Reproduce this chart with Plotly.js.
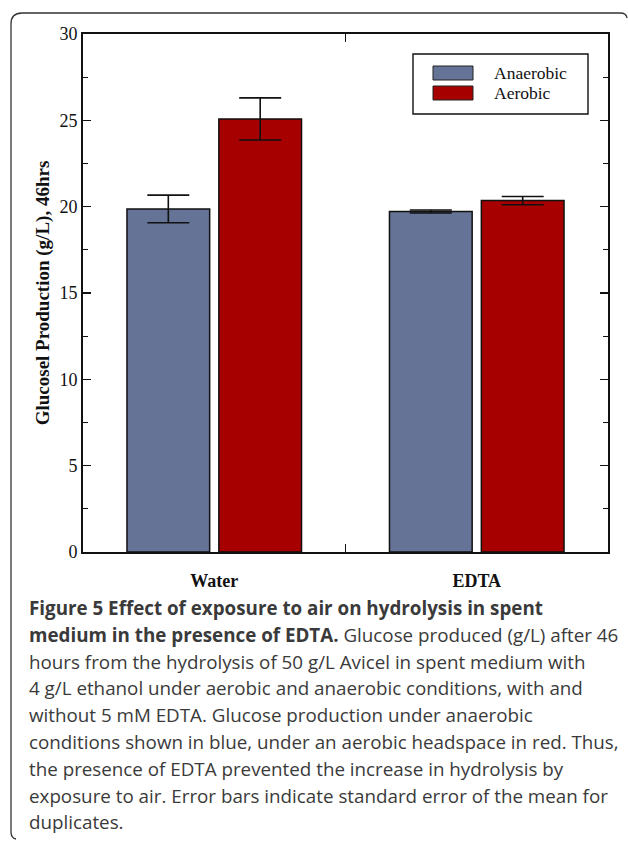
<!DOCTYPE html>
<html>
<head>
<meta charset="utf-8">
<script src="https://cdn.plot.ly/plotly-3.0.1.min.js"></script>
<style>html,body{margin:0;padding:0;background:#fff;}#chart{width:628px;height:842px;}</style>
</head>
<body>
<div id="chart"></div>
<script>
// ---- data ----
const categories = ['Water', 'EDTA'];
const seriesNames = ['Anaerobic', 'Aerobic'];
const anaerobic = [19.87, 19.72];
const anaerobicErr = [0.80, 0.09];
const aerobic = [25.08, 20.35];
const aerobicErr = [1.22, 0.24];
const yTickValues = [0, 5, 10, 15, 20, 25, 30];
const yTitle = 'Glucosel Production (g/L), 46hrs';
const captionLines = [
  '<b>Figure 5 Effect of exposure to air on hydrolysis in spent</b>',
  '<b>medium in the presence of EDTA.</b> Glucose produced (g/L) after 46',
  'hours from the hydrolysis of 50 g/L Avicel in spent medium with',
  '4 g/L ethanol under aerobic and anaerobic conditions, with and',
  'without 5 mM EDTA. Glucose production under anaerobic',
  'conditions shown in blue, under an aerobic headspace in red. Thus,',
  'the presence of EDTA prevented the increase in hydrolysis by',
  'exposure to air. Error bars indicate standard error of the mean for',
  'duplicates.'
];

// ---- style ----
const colors = ['#657396', '#a60000'];
const L = 83, T = 34, W = 525, H = 518, FW = 628, FH = 842;
const px = x => (x - L) / W;
const py = y => (T + H - y) / H;
const serif = '"Liberation Serif", "Times New Roman", serif';

function barTrace(name, vals, errs, color) {
  return {
    type: 'bar', name: name, x: categories, y: vals,
    marker: {color: color, line: {color: '#111', width: 1.5}},
    error_y: {type: 'data', array: errs, visible: true, color: '#111', thickness: 1.6, width: 21},
    showlegend: false, hoverinfo: 'skip'
  };
}
const traces = [
  barTrace(seriesNames[0], anaerobic, anaerobicErr, colors[0]),
  barTrace(seriesNames[1], aerobic, aerobicErr, colors[1])
];

// legend (drawn as box + swatches + text)
const shapes = [];
const annotations = [];
shapes.push({type: 'rect', xref: 'paper', yref: 'paper', x0: px(413), x1: px(588), y0: py(54), y1: py(114),
  line: {color: '#111', width: 1.4}, fillcolor: 'rgba(0,0,0,0)'});
seriesNames.forEach((n, i) => {
  const yc = 73 + i * 20;
  shapes.push({type: 'rect', xref: 'paper', yref: 'paper', x0: px(433), x1: px(473), y0: py(yc - 7), y1: py(yc + 7),
    line: {color: '#222', width: 1}, fillcolor: colors[i]});
  annotations.push({xref: 'paper', yref: 'paper', x: px(492), y: py(yc), xanchor: 'left', yanchor: 'middle',
    text: n, showarrow: false, font: {family: serif, size: 17.5, color: '#111'}});
});

// figure frame
const framePath = `M${px(620)},${py(13)} Q${px(626.5)},${py(13)} ${px(627)},${py(18)} ` +
  `M${px(620)},${py(13)} L${px(22)},${py(13)} Q${px(11)},${py(13)} ${px(11)},${py(24)} ` +
  `L${px(11)},${py(832)} Q${px(11)},${py(838)} ${px(16)},${py(839)}`;
shapes.push({type: 'path', xref: 'paper', yref: 'paper', path: framePath, line: {color: '#333', width: 1.3}});

// caption
captionLines.forEach((t, i) => {
  annotations.push({xref: 'paper', yref: 'paper', x: px(27), y: py(608 + i * 26.8), xanchor: 'left', yanchor: 'middle',
    text: t, showarrow: false, align: 'left', font: {family: '"Open Sans", sans-serif', size: 18.8, color: '#3a3a3a'}});
});

const layout = {
  width: FW, height: FH,
  margin: {l: L, r: FW - L - W, t: T, b: FH - T - H},
  paper_bgcolor: '#fff', plot_bgcolor: '#fff',
  barmode: 'group', bargap: 0.3, bargroupgap: 0.1,
  showlegend: false,
  xaxis: {
    type: 'category', range: [-0.5, 1.5], showgrid: false, zeroline: false,
    showline: true, linecolor: '#111', linewidth: 1.8, mirror: 'ticks',
    ticks: 'inside', tickson: 'boundaries', ticklen: 8, tickwidth: 1.5, tickcolor: '#111',
    tickfont: {family: serif, size: 18, color: '#111', weight: 'bold'},
    ticklabelstandoff: 12
  },
  yaxis: {
    range: [0, 30], tickvals: yTickValues, showgrid: false, zeroline: false,
    showline: true, linecolor: '#111', linewidth: 1.8, mirror: 'ticks',
    ticks: 'inside', ticklen: 8, tickwidth: 1.5, tickcolor: '#111',
    minor: {dtick: 2.5, ticks: 'inside', ticklen: 5, tickwidth: 1.3, tickcolor: '#111', showgrid: false},
    tickfont: {family: serif, size: 18, color: '#111'},
    ticklabelstandoff: 0,
    title: {text: '<b>' + yTitle + '</b>', font: {family: serif, size: 19, color: '#111'}, standoff: 5}
  },
  shapes: shapes,
  annotations: annotations
};

Plotly.newPlot('chart', traces, layout, {displayModeBar: false, staticPlot: true});
</script>
</body>
</html>
